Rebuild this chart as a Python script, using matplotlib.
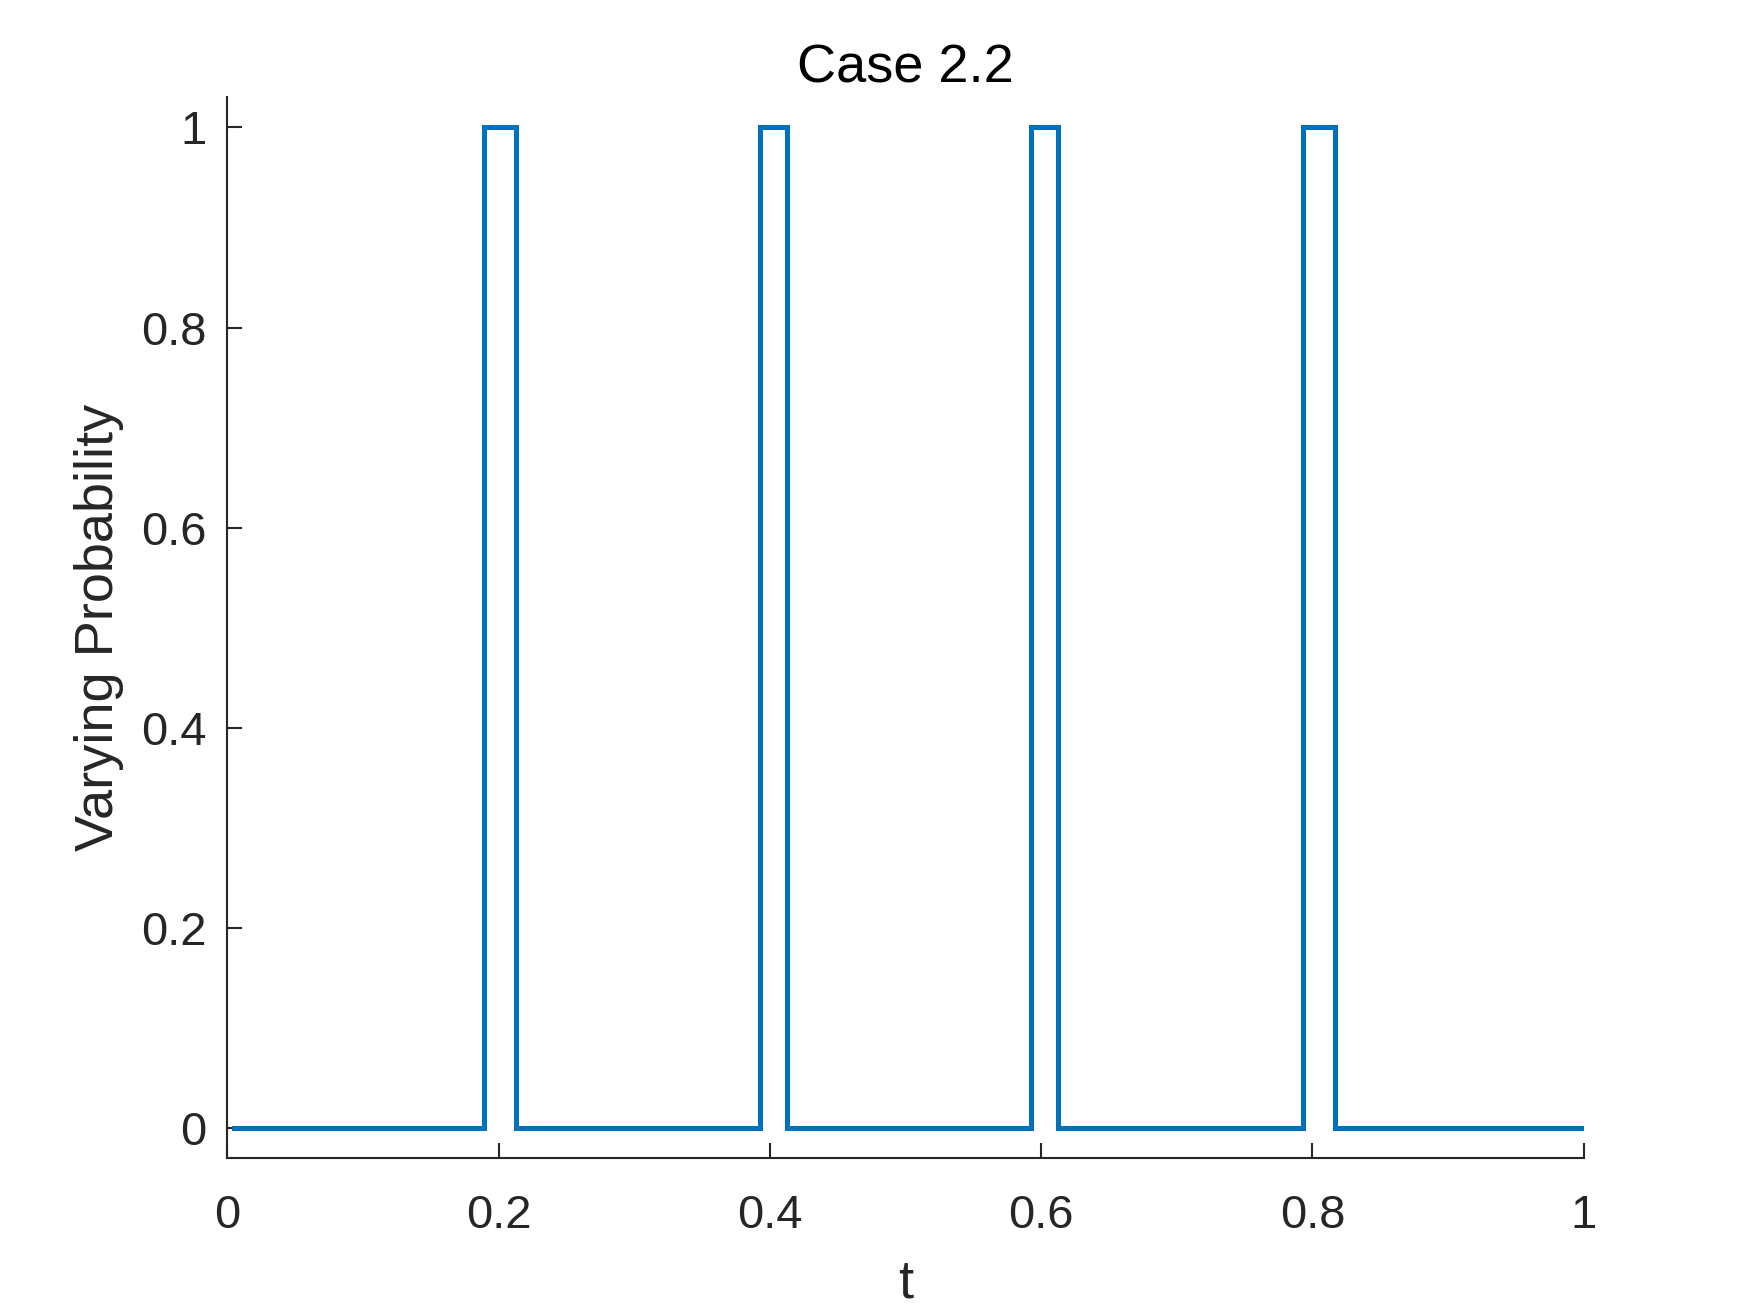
import matplotlib
matplotlib.use("Agg")
import matplotlib.pyplot as plt
import numpy as np

plt.rcParams['font.family'] = ['Liberation Sans', 'DejaVu Sans']

# Data
t_start = 0.005
t_end = 1.0
pulse_start = [0.189, 0.3925, 0.5925, 0.793]
pulse_end = [0.2125, 0.4125, 0.6125, 0.8165]
low_value = 0.0
high_value = 1.0
x_ticks = [0, 0.2, 0.4, 0.6, 0.8, 1]
x_tick_labels = ['0', '0.2', '0.4', '0.6', '0.8', '1']
y_ticks = [0, 0.2, 0.4, 0.6, 0.8, 1]
y_tick_labels = ['0', '0.2', '0.4', '0.6', '0.8', '1']

ts = [t_start]
ys = [low_value]
for a, b in zip(pulse_start, pulse_end):
    ts += [a, a, b, b]
    ys += [low_value, high_value, high_value, low_value]
ts.append(t_end)
ys.append(low_value)

fig = plt.figure(figsize=(1750/300, 1313/300), dpi=300)
ax = fig.add_axes([0.1299, 0.1178, 0.7750, 0.8081])
ax.plot(ts, ys, color='#0072BD', linewidth=1.2, solid_joinstyle='miter')
ax.set_xlim(0, 1)
ax.set_ylim(-0.03, 1.03)
ax.set_xticks(x_ticks)
ax.set_xticklabels(x_tick_labels)
ax.set_yticks(y_ticks)
ax.set_yticklabels(y_tick_labels)
gray = '#262626'
for s in ['top', 'right']:
    ax.spines[s].set_visible(False)
for s in ['left', 'bottom']:
    ax.spines[s].set_color(gray)
    ax.spines[s].set_linewidth(0.5)
ax.tick_params(direction='in', length=3.5, width=0.5, colors=gray, labelsize=11.3)
ax.tick_params(axis='x', pad=8.5)
ax.tick_params(axis='y', pad=5)
ax.set_xlabel('t', fontsize=13, color=gray, labelpad=5)
ax.set_ylabel('Varying Probability', fontsize=13, color=gray, labelpad=4)
ax.set_title('Case 2.2', fontsize=13, color='black', pad=3.5)
fig.savefig('out.png', dpi=300)
